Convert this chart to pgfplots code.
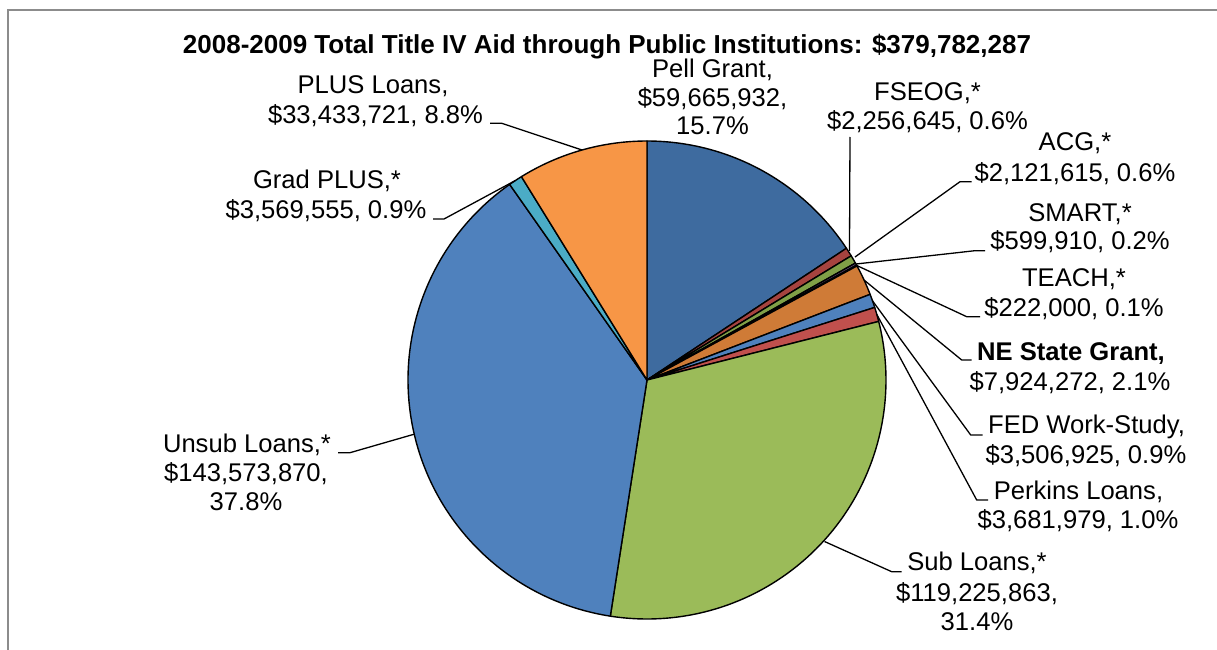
\documentclass[border=0pt]{standalone}
\usepackage{pgfplots}
\usepackage{pgfplotstable}
\pgfplotsset{compat=1.18}
\usepackage{fontspec}
\setmainfont{Liberation Sans}

\definecolor{cPell}{HTML}{3E6B9F}
\definecolor{cFSEOG}{HTML}{A6433F}
\definecolor{cACG}{HTML}{80A047}
\definecolor{cSMART}{HTML}{664F86}
\definecolor{cTEACH}{HTML}{3A8FA6}
\definecolor{cNE}{HTML}{CF7B37}
\definecolor{cFED}{HTML}{4F81BD}
\definecolor{cPerk}{HTML}{C0504D}
\definecolor{cSub}{HTML}{9BBB59}
\definecolor{cUnsub}{HTML}{4F81BD}
\definecolor{cGrad}{HTML}{4BACC6}
\definecolor{cPLUS}{HTML}{F79646}
\definecolor{frame}{HTML}{8C8C8C}

% values in millions of dollars
\pgfplotstableread{
value color
59.665932 cPell
2.256645 cFSEOG
2.121615 cACG
0.599910 cSMART
0.222000 cTEACH
7.924272 cNE
3.506925 cFED
3.681979 cPerk
119.225863 cSub
143.573870 cUnsub
3.569555 cGrad
33.433721 cPLUS
}\piedata

\newcommand{\lab}[3]{\node[anchor=base, inner sep=0pt] at (axis cs:#1,-#2) {#3};}

\begin{document}
\begin{tikzpicture}
\begin{axis}[
  x=1bp, y=1bp,
  xmin=0, xmax=1217, ymin=-650, ymax=0,
  hide axis, clip=false,
  anchor=south west, at={(0,0)},
]
% pie slices
\pgfplotstablegetrowsof{\piedata}
\pgfmathtruncatemacro\nrows{\pgfplotsretval-1}
\def\total{0}
\pgfplotsforeachungrouped \i in {0,...,\nrows}{%
  \pgfplotstablegetelem{\i}{value}\of\piedata
  \pgfmathsetmacro\total{\total+\pgfplotsretval}%
}
\gdef\astart{90}
\pgfplotsforeachungrouped \i in {0,...,\nrows}{%
  \pgfplotstablegetelem{\i}{value}\of\piedata \let\v\pgfplotsretval
  \pgfplotstablegetelem{\i}{color}\of\piedata \let\c\pgfplotsretval
  \pgfmathsetmacro\aend{\astart-360*(\v/\total)}%
  \edef\cmd{\noexpand\addplot[draw=black, line width=1.4bp, line join=round, fill=\c, domain=\aend:\astart, samples=150] ({647+239*cos(x)},{-380+239*sin(x)}) -- (axis cs:647,-380) -- cycle;}%
  \cmd
  \global\let\astart\aend
}

% frame
\draw[frame, line width=2bp] (axis cs:8,-650) -- (axis cs:8,-10) -- (axis cs:1217,-10);

% leader lines
\begin{scope}[black, line width=1.3bp, line join=round]
\draw (axis cs:490,-123.3) -- (axis cs:501.7,-123.3) -- (axis cs:582,-150);
\draw (axis cs:433,-219) -- (axis cs:444,-219) -- (axis cs:515.4,-180.5);
\draw (axis cs:850,-137) -- (axis cs:849.5,-251);
\draw (axis cs:971.7,-181.7) -- (axis cs:960,-181.7) -- (axis cs:855,-257);
\draw (axis cs:985,-250.7) -- (axis cs:975,-250.7) -- (axis cs:856,-264);
\draw (axis cs:980,-316.7) -- (axis cs:966.7,-316.7) -- (axis cs:856.8,-265.5);
\draw (axis cs:971.7,-360) -- (axis cs:961.7,-360) -- (axis cs:864,-280);
\draw (axis cs:982.7,-435) -- (axis cs:970.7,-435) -- (axis cs:872.5,-300.8);
\draw (axis cs:988,-500) -- (axis cs:976.7,-500) -- (axis cs:876.8,-314.4);
\draw (axis cs:824.5,-541.5) -- (axis cs:891.7,-571.7) -- (axis cs:901.7,-571.7);
\draw (axis cs:338,-452.7) -- (axis cs:350,-452.7) -- (axis cs:414.2,-434.2);
\end{scope}

% labels
\begin{scope}[font=\fontsize{25.6bp}{29bp}\selectfont]
\node[anchor=base, inner sep=0pt, font=\fontsize{26bp}{30bp}\selectfont\bfseries] at (axis cs:607,-54) {2008-2009 Total Title IV Aid through Public Institutions: \$379,782,287};
\lab{712.5}{78}{Pell Grant,}
\lab{712.5}{107}{\$59,665,932,}
\lab{712.5}{135}{15.7\%}
\lab{927.5}{100.7}{FSEOG,*}
\lab{927.5}{130}{\$2,256,645, 0.6\%}
\lab{1075}{150.7}{ACG,*}
\lab{1075}{181.7}{\$2,121,615, 0.6\%}
\lab{1080}{221.7}{SMART,*}
\lab{1080}{250}{\$599,910, 0.2\%}
\lab{1074}{286.7}{TEACH,*}
\lab{1074}{316.7}{\$222,000, 0.1\%}
\lab{1071}{360}{\textbf{NE State Grant,}}
\lab{1070}{390}{\$7,924,272, 2.1\%}
\lab{1086.5}{433}{FED Work-Study,}
\lab{1086}{463}{\$3,506,925, 0.9\%}
\lab{1078.5}{499}{Perkins Loans,}
\lab{1078}{528}{\$3,681,979, 1.0\%}
\lab{977}{570.7}{Sub Loans,*}
\lab{977}{601.7}{\$119,225,863,}
\lab{977}{630}{31.4\%}
\lab{247}{452}{Unsub Loans,*}
\lab{246}{481}{\$143,573,870,}
\lab{246}{510}{37.8\%}
\lab{327}{188.3}{Grad PLUS,*}
\lab{326}{218.3}{\$3,569,555, 0.9\%}
\lab{373}{93.3}{PLUS Loans,}
\lab{375.5}{123.3}{\$33,433,721, 8.8\%}
\end{scope}
\end{axis}
\pgfresetboundingbox
\path (0,0) rectangle (1217bp,650bp);
\end{tikzpicture}
\end{document}
